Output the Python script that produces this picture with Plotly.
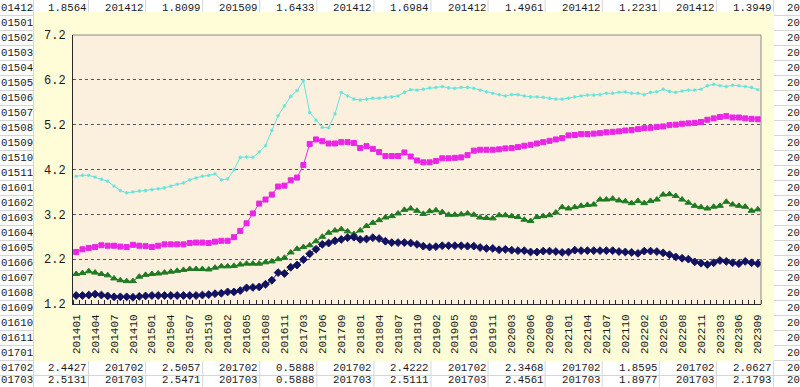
import plotly.graph_objects as go

# ---------------- data ----------------
months = [
    "201401", "201402", "201403", "201404", "201405", "201406", "201407", "201408", "201409", "201410", "201411", "201412",
    "201501", "201502", "201503", "201504", "201505", "201506", "201507", "201508", "201509", "201510", "201511",
    "201601", "201602", "201603", "201604", "201605", "201606", "201607", "201608", "201609", "201610", "201611",
    "201701", "201702", "201703", "201704", "201705", "201706", "201707", "201708", "201709", "201710", "201711",
    "201801", "201802", "201803", "201804", "201805", "201806", "201807", "201808", "201809", "201810", "201811",
    "201901", "201902", "201903", "201904", "201905", "201906", "201907", "201908", "201909", "201910", "201911",
    "202001", "202002", "202003", "202004", "202005", "202006", "202007", "202008", "202009", "202010", "202011",
    "202101", "202102", "202103", "202104", "202105", "202106", "202107", "202108", "202109", "202110", "202111",
    "202201", "202202", "202203", "202204", "202205", "202206", "202207", "202208", "202209", "202210", "202211",
    "202301", "202302", "202303", "202304", "202305", "202306", "202307", "202308", "202309",
]
tick_labels = [
    "201401", "201404", "201407", "201410", "201501", "201504", "201507", "201510", "201602", "201605",
    "201608", "201611", "201703", "201706", "201709", "201801", "201804", "201807", "201810", "201902",
    "201905", "201908", "201911", "202003", "202006", "202009", "202101", "202104", "202107", "202110",
    "202202", "202205", "202208", "202211", "202303", "202306", "202309",
]
cyan_vals = [
    4.05, 4.07, 4.07, 4.03, 3.98, 3.94, 3.83, 3.73, 3.68, 3.70, 3.72, 3.73, 3.75, 3.77, 3.79, 3.83, 3.87, 3.90, 3.97, 4.01,
    4.05, 4.07, 4.10, 3.97, 3.99, 4.19, 4.47, 4.48, 4.47, 4.59, 4.73, 5.07, 5.40, 5.62, 5.83, 5.96, 6.18, 5.47, 5.30, 5.14,
    5.13, 5.44, 5.92, 5.84, 5.77, 5.75, 5.77, 5.79, 5.79, 5.81, 5.82, 5.84, 5.92, 5.98, 5.97, 5.99, 6.02, 6.03, 6.05, 6.02,
    6.01, 6.03, 6.03, 6.01, 5.97, 5.93, 5.90, 5.87, 5.84, 5.87, 5.87, 5.84, 5.82, 5.82, 5.81, 5.79, 5.77, 5.77, 5.79, 5.82,
    5.84, 5.86, 5.86, 5.87, 5.90, 5.90, 5.92, 5.93, 5.90, 5.90, 5.87, 5.92, 5.93, 5.99, 5.94, 5.92, 5.95, 5.97, 5.97, 5.99,
    6.07, 6.10, 6.07, 6.05, 6.08, 6.07, 6.05, 6.03, 5.98,
]
magenta_vals = [
    2.36, 2.42, 2.45, 2.47, 2.51, 2.50, 2.50, 2.48, 2.47, 2.52, 2.50, 2.49, 2.47, 2.50, 2.53, 2.53, 2.53, 2.53, 2.56, 2.57,
    2.57, 2.56, 2.59, 2.61, 2.61, 2.69, 2.83, 3.00, 3.22, 3.44, 3.53, 3.64, 3.82, 3.84, 3.96, 4.02, 4.30, 4.77, 4.87, 4.83,
    4.78, 4.78, 4.81, 4.81, 4.79, 4.68, 4.72, 4.66, 4.59, 4.50, 4.50, 4.50, 4.58, 4.49, 4.40, 4.36, 4.36, 4.39, 4.45, 4.45,
    4.46, 4.47, 4.52, 4.62, 4.64, 4.64, 4.64, 4.65, 4.67, 4.68, 4.70, 4.73, 4.75, 4.78, 4.81, 4.84, 4.87, 4.90, 4.96, 4.97,
    4.99, 4.99, 5.00, 5.01, 5.03, 5.04, 5.05, 5.07, 5.08, 5.10, 5.12, 5.13, 5.15, 5.16, 5.19, 5.20, 5.22, 5.23, 5.24, 5.26,
    5.31, 5.34, 5.37, 5.39, 5.36, 5.36, 5.34, 5.33, 5.32,
]
green_vals = [
    1.87, 1.89, 1.93, 1.90, 1.87, 1.84, 1.77, 1.73, 1.71, 1.71, 1.81, 1.85, 1.87, 1.88, 1.90, 1.92, 1.94, 1.96, 1.98, 1.98,
    1.98, 1.97, 2.01, 2.04, 2.04, 2.05, 2.08, 2.10, 2.10, 2.10, 2.13, 2.15, 2.20, 2.23, 2.35, 2.43, 2.47, 2.51, 2.60, 2.70,
    2.79, 2.84, 2.87, 2.82, 2.76, 2.84, 2.94, 3.01, 3.07, 3.13, 3.16, 3.22, 3.30, 3.33, 3.28, 3.21, 3.27, 3.29, 3.25, 3.19,
    3.19, 3.20, 3.22, 3.19, 3.13, 3.12, 3.11, 3.18, 3.18, 3.16, 3.14, 3.08, 3.05, 3.14, 3.16, 3.18, 3.24, 3.36, 3.33, 3.36,
    3.39, 3.41, 3.42, 3.53, 3.53, 3.55, 3.51, 3.49, 3.45, 3.50, 3.45, 3.50, 3.53, 3.64, 3.65, 3.61, 3.53, 3.46, 3.39, 3.36,
    3.33, 3.37, 3.39, 3.48, 3.42, 3.39, 3.37, 3.28, 3.31,
]
navy_vals = [
    1.39, 1.39, 1.40, 1.42, 1.40, 1.38, 1.36, 1.36, 1.36, 1.35, 1.37, 1.38, 1.39, 1.39, 1.39, 1.39, 1.39, 1.39, 1.39, 1.39,
    1.40, 1.41, 1.43, 1.44, 1.47, 1.47, 1.50, 1.56, 1.57, 1.58, 1.64, 1.73, 1.90, 1.88, 2.02, 2.07, 2.19, 2.32, 2.42, 2.53,
    2.56, 2.61, 2.64, 2.68, 2.69, 2.64, 2.65, 2.68, 2.66, 2.60, 2.57, 2.57, 2.57, 2.56, 2.53, 2.49, 2.47, 2.48, 2.50, 2.50,
    2.50, 2.50, 2.49, 2.49, 2.46, 2.44, 2.44, 2.41, 2.42, 2.40, 2.39, 2.39, 2.36, 2.36, 2.38, 2.38, 2.37, 2.35, 2.36, 2.40,
    2.39, 2.39, 2.39, 2.39, 2.39, 2.39, 2.37, 2.36, 2.35, 2.33, 2.38, 2.38, 2.37, 2.34, 2.30, 2.25, 2.22, 2.20, 2.14, 2.11,
    2.08, 2.12, 2.17, 2.15, 2.12, 2.10, 2.15, 2.12, 2.10,
]
y_ticks = [1.2, 2.2, 3.2, 4.2, 5.2, 6.2, 7.2]

# spreadsheet cells visible around the chart (as they appear, clipped by the window)
left_col = ["01412", "01501", "01502", "01503", "01504", "01505", "01506", "01507", "01508", "01509",
            "01510", "01511", "01601", "01602", "01603", "01604", "01605", "01606", "01607", "01608",
            "01609", "01610", "01611", "01701", "01702", "01703"]
right_col = ["20"] * 26
top_row = ["1.8564", "201412", "1.8099", "201509", "1.6433", "201412", "1.6984", "201412", "1.4961",
           "201412", "1.2231", "201412", "1.3949"]
row_201702 = ["2.4427", "201702", "2.5057", "201702", "0.5888", "201702", "2.4222", "201702", "2.3468",
              "201702", "1.8595", "201702", "2.0627"]
row_201703 = ["2.5131", "201703", "2.5471", "201703", "0.5888", "201703", "2.5111", "201703", "2.4561",
              "201703", "1.8977", "201703", "2.1793"]

# ---------------- layout helpers ----------------
W, H = 800, 387
PL, PR, PT, PB = 73, 761, 35, 304


def fx(p):
    return (p - PL) / (PR - PL)


def fy(p):
    return (PB - p) / (PB - PT)


x_idx = list(range(len(months)))
tick_pos = [months.index(t) for t in tick_labels]

fig = go.Figure()
series = [
    (cyan_vals, "#66E3DC", "asterisk-open", 3, 1),
    (magenta_vals, "#E926E6", "square", 5, 1),
    (green_vals, "#1F7A22", "triangle-up", 6, 1),
    (navy_vals, "#121260", "diamond", 6, 1),
]
for vals, col, sym, sz, lw in series:
    fig.add_trace(go.Scatter(
        x=x_idx, y=vals, mode="lines+markers",
        line=dict(color=col, width=lw),
        marker=dict(symbol=sym, size=sz, color=col, line=dict(color=col, width=1)),
        showlegend=False, hoverinfo="skip",
    ))

shapes = []
grid_c = "#D6D6D6"
# spreadsheet gridlines
row_y = [8 + 15 * k for k in range(25)] + [379.5]
for k in range(27):
    yy = 15.5 + 15 * k
    shapes.append(dict(type="line", xref="paper", yref="paper", x0=fx(0), x1=fx(W), y0=fy(yy), y1=fy(yy),
                       line=dict(color=grid_c, width=1), layer="below"))
col_right = [86 + 57.08 * j for j in range(13)]
for xx in [33.5] + [c + 2.5 for c in col_right]:
    shapes.append(dict(type="line", xref="paper", yref="paper", x0=fx(xx), x1=fx(xx), y0=fy(0), y1=fy(H),
                       line=dict(color=grid_c, width=1), layer="below"))
# chart area
shapes.append(dict(type="rect", xref="paper", yref="paper", x0=fx(34), x1=fx(774), y0=fy(12), y1=fy(361),
                   fillcolor="#FEFDD8", line=dict(width=0), layer="below"))
# plot area
shapes.append(dict(type="rect", xref="paper", yref="paper", x0=0, x1=1, y0=0, y1=1,
                   fillcolor="#FAF0DD", line=dict(width=0), layer="below"))
# top and right border of plot area
shapes.append(dict(type="line", xref="paper", yref="paper", x0=0, x1=1, y0=1, y1=1,
                   line=dict(color="#8A8A8A", width=1)))
shapes.append(dict(type="line", xref="paper", yref="paper", x0=1, x1=1, y0=0, y1=1,
                   line=dict(color="#8A8A8A", width=1)))

annotations = []
cell_font = dict(family="Liberation Mono, DejaVu Sans Mono, monospace", size=10.7, color="#1A1A1A")


def cell(text, right_x, cy, anchor="right"):
    annotations.append(dict(text=text, xref="paper", yref="paper", x=fx(right_x), y=fy(cy),
                            xanchor=anchor, yanchor="middle", showarrow=False, font=cell_font,
                            borderpad=0, borderwidth=0))


for k, lab in enumerate(left_col):
    cell(lab, 32.5, row_y[k])
    cell(right_col[k], 799.5, row_y[k])
for j, t in enumerate(top_row):
    cell(t, col_right[j], row_y[0])
for j, t in enumerate(row_201702):
    cell(t, col_right[j], row_y[24])
for j, t in enumerate(row_201703):
    cell(t, col_right[j], row_y[25])

fig.update_layout(
    width=W, height=H, autosize=False,
    margin=dict(l=PL, r=W - PR, t=PT, b=H - PB, pad=0),
    paper_bgcolor="white", plot_bgcolor="rgba(0,0,0,0)",
    shapes=shapes, annotations=annotations,
    xaxis=dict(
        range=[-0.5, len(months) - 0.5], tickmode="array", tickvals=tick_pos, ticktext=tick_labels,
        tickangle=-90, ticks="", showgrid=False, zeroline=False,
        showline=True, linecolor="#2A2A2A", linewidth=1,
        tickfont=dict(family="Liberation Mono, DejaVu Sans Mono, monospace", size=11, color="#1A1A1A"),
        ticklabelstandoff=5,
        minor=dict(ticks="inside", tickmode="array", tickvals=[i - 0.5 for i in range(len(months) + 1)],
                   ticklen=4, tickcolor="#2A2A2A", tickwidth=1, showgrid=False),
    ),
    yaxis=dict(
        range=[1.2, 7.2], tickmode="array", tickvals=y_ticks, ticktext=[f"{v:.1f}" for v in y_ticks],
        ticks="", showgrid=True, gridcolor="#555555", griddash="dot", gridwidth=1, zeroline=False,
        showline=True, linecolor="#2A2A2A", linewidth=1,
        tickfont=dict(family="Liberation Mono, DejaVu Sans Mono, monospace", size=12, color="#1A1A1A"),
        ticklabelstandoff=4,
    ),
)

fig.write_html("out.html", config={"displayModeBar": False},
               post_script="document.body.style.margin='0';document.body.style.overflow='hidden';")
